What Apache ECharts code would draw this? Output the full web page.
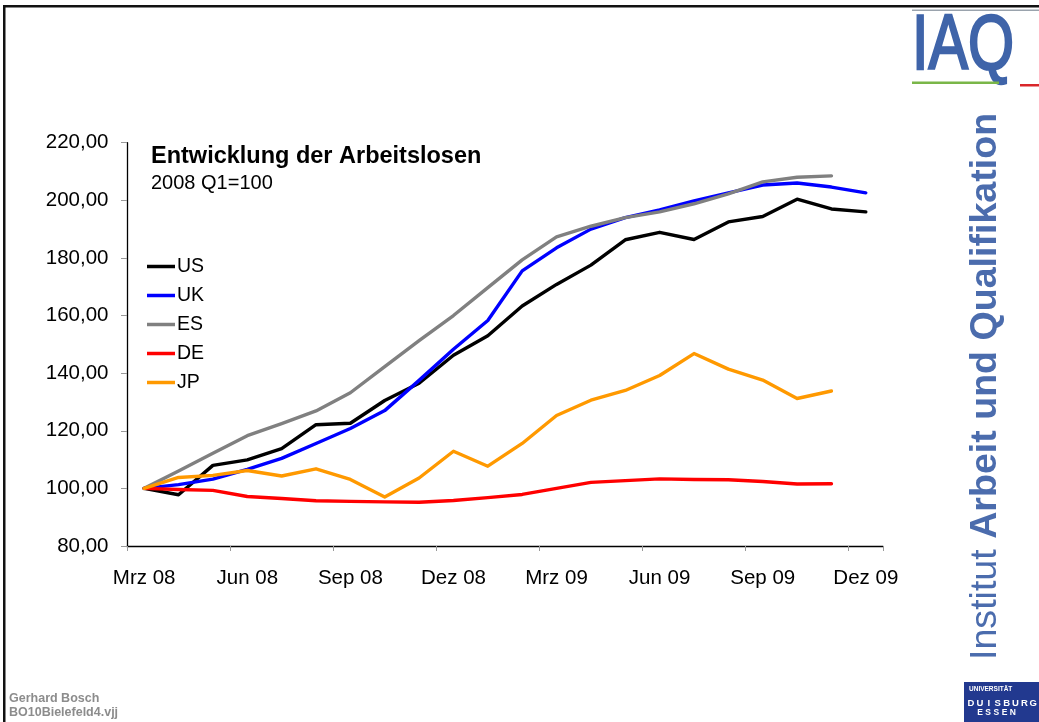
<!DOCTYPE html>
<html>
<head>
<meta charset="utf-8">
<script src="https://cdn.jsdelivr.net/npm/echarts@6/dist/echarts.min.js"></script>
<style>
html,body{margin:0;padding:0;background:#fff;}
#chart{width:1039px;height:722px;}
</style>
</head>
<body>
<div id="chart"></div>
<script>
const categories = ['Mrz 08','Apr 08','Mai 08','Jun 08','Jul 08','Aug 08','Sep 08','Okt 08','Nov 08','Dez 08','Jan 09','Feb 09','Mrz 09','Apr 09','Mai 09','Jun 09','Jul 09','Aug 09','Sep 09','Okt 09','Nov 09','Dez 09'];
const seriesNames = ['US','UK','ES','DE','JP'];
const US = [100, 97.8, 108.0, 109.9, 113.8, 122.1, 122.6, 130.5, 136.5, 146.2, 153.0, 163.3, 170.8, 177.5, 186.3, 188.9, 186.4, 192.5, 194.4, 200.4, 197.0, 196.0];
const UK = [100, 101.3, 103.2, 106.6, 110.4, 115.6, 120.8, 127.0, 137.5, 148.3, 158.3, 175.5, 183.5, 190.0, 194.0, 196.7, 199.8, 202.6, 205.3, 206.0, 204.6, 202.6];
const ES = [100, 106.0, 112.2, 118.3, 122.5, 126.9, 133.2, 142.3, 151.3, 160.0, 169.7, 179.3, 187.3, 191.0, 194.0, 196.0, 198.8, 202.2, 206.4, 208.0, 208.5];
const DE = [100, 99.6, 99.3, 97.2, 96.5, 95.7, 95.5, 95.3, 95.2, 95.8, 96.8, 97.9, 100.0, 102.1, 102.7, 103.3, 103.1, 103.0, 102.4, 101.5, 101.6];
const JP = [100, 103.8, 104.5, 106.2, 104.3, 106.8, 103.1, 97.0, 103.6, 112.9, 107.7, 115.6, 125.3, 130.6, 134.0, 139.2, 146.8, 141.4, 137.6, 131.2, 133.8];
const seriesData = [US, UK, ES, DE, JP];
const seriesColors = ['#000000', '#0000ff', '#808080', '#ff0000', '#ff9900'];
const yTicks = { min: 80, max: 220, interval: 20 };
const titleText = 'Entwicklung der Arbeitslosen';
const subtitleText = '2008 Q1=100';

const FONT = "'Liberation Sans', Arial, Helvetica, sans-serif";
const IAQ_BLUE = '#3f64a9';
const TEXT_BLUE = '#4b6cad';

const chart = echarts.init(document.getElementById('chart'), null, {renderer: 'canvas'});

// university logo letters (decoration)
const uniLetters = [];
'DUISBURG'.split('').forEach((ch, i) => {
  uniLetters.push({type: 'text', silent: true, style: {text: ch, x: 971 + i * 8.9, y: 703, font: "bold 9.5px " + FONT, fill: '#ffffff', textAlign: 'center', textVerticalAlign: 'middle'}});
});
'ESSEN'.split('').forEach((ch, i) => {
  uniLetters.push({type: 'text', silent: true, style: {text: ch, x: 980 + i * 8.2, y: 713, font: "bold 8.5px " + FONT, fill: '#ffffff', textAlign: 'center', textVerticalAlign: 'middle'}});
});

const option = {
  animation: false,
  backgroundColor: '#ffffff',
  color: seriesColors,
  title: {
    text: titleText,
    subtext: subtitleText,
    left: 151,
    top: 144.5,
    padding: 0,
    itemGap: 4.5,
    textStyle: {fontFamily: FONT, fontSize: 23.5, fontWeight: 'bold', color: '#000', lineHeight: 24},
    subtextStyle: {fontFamily: FONT, fontSize: 20, color: '#000', lineHeight: 20}
  },
  legend: {
    orient: 'vertical',
    left: 147,
    top: 256.5,
    padding: 0,
    itemGap: 9,
    itemWidth: 28,
    itemHeight: 3.5,
    icon: 'rect',
    data: seriesNames,
    textStyle: {fontFamily: FONT, fontSize: 19.5, color: '#000', lineHeight: 20, padding: [0, 0, 0, -3]}
  },
  grid: {
    left: 127,
    right: 156,
    top: 142.7,
    bottom: 176,
    containLabel: false,
    outerBoundsMode: 'none'
  },
  xAxis: {
    type: 'category',
    data: categories,
    boundaryGap: true,
    axisLine: {show: true, lineStyle: {color: '#000', width: 1.3}},
    axisTick: {show: true, interval: 2, alignWithLabel: false, length: 5, inside: false, lineStyle: {color: '#999'}},
    axisLabel: {interval: 2, margin: 22, fontFamily: FONT, fontSize: 20.5, color: '#000'},
    splitLine: {show: false}
  },
  yAxis: {
    type: 'value',
    min: yTicks.min,
    max: yTicks.max,
    interval: yTicks.interval,
    axisLine: {show: true, lineStyle: {color: '#000', width: 1.3}},
    axisTick: {show: true, length: 6, inside: false, lineStyle: {color: '#999'}},
    axisLabel: {
      margin: 18.5,
      fontFamily: FONT, fontSize: 20.5, color: '#000',
      formatter: v => v.toFixed(2).replace('.', ',')
    },
    splitLine: {show: false}
  },
  series: seriesNames.map((name, i) => ({
    name: name,
    type: 'line',
    data: seriesData[i],
    symbol: 'none',
    showSymbol: false,
    smooth: false,
    color: seriesColors[i],
    lineStyle: {color: seriesColors[i], width: 3.4, cap: 'round', join: 'round'},
    itemStyle: {color: seriesColors[i]},
    emphasis: {disabled: true},
    z: 2 + i
  })),
  graphic: [
    // slide frame
    {type: 'rect', shape: {x: 3, y: 5, width: 1036, height: 2.5}, style: {fill: '#111'}, silent: true},
    {type: 'rect', shape: {x: 3, y: 5, width: 2.5, height: 717}, style: {fill: '#111'}, silent: true},
    // IAQ logo
    {type: 'rect', shape: {x: 912, y: 9.5, width: 127, height: 1.5}, style: {fill: '#9aa3ad'}, silent: true},
    {type: 'text', x: 912, y: 47, scaleX: 0.76, style: {text: 'IAQ', x: 0, y: 0, font: "78px " + FONT, fill: IAQ_BLUE, stroke: IAQ_BLUE, lineWidth: 2.4, textAlign: 'left', textVerticalAlign: 'middle'}, silent: true},
    {type: 'rect', shape: {x: 912, y: 81.5, width: 87, height: 2.5}, style: {fill: '#7ab648'}, silent: true},
    {type: 'rect', shape: {x: 1020, y: 84, width: 19, height: 2.5}, style: {fill: '#d9262a'}, silent: true},
    // vertical institute name
    {
      type: 'group', x: 985.5, y: 660, rotation: Math.PI / 2, silent: true,
      children: [
        {type: 'text', style: {text: 'Institut ', x: 0, y: 0, font: "37.6px " + FONT, fill: TEXT_BLUE, textAlign: 'left', textVerticalAlign: 'middle'}},
        {type: 'text', style: {text: 'Arbeit und Qualifikation', x: 121.2, y: 0, font: "bold 37.6px " + FONT, fill: TEXT_BLUE, textAlign: 'left', textVerticalAlign: 'middle'}}
      ]
    },
    // University logo
    {type: 'rect', shape: {x: 964, y: 682, width: 75, height: 40}, style: {fill: '#22398f'}, silent: true},
    {type: 'text', style: {text: 'UNIVERSITÄT', x: 969, y: 689.5, font: "bold 6.5px " + FONT, fill: '#ffffff', textAlign: 'left', textVerticalAlign: 'middle'}, silent: true}
  ].concat(uniLetters).concat([
    // footer
    {type: 'text', style: {text: 'Gerhard Bosch', x: 9, y: 698.5, font: "bold 12.5px " + FONT, fill: '#8c8c8c', textAlign: 'left', textVerticalAlign: 'middle'}, silent: true},
    {type: 'text', style: {text: 'BO10Bielefeld4.vjj', x: 9, y: 712.5, font: "bold 12.5px " + FONT, fill: '#8c8c8c', textAlign: 'left', textVerticalAlign: 'middle'}, silent: true}
  ])
};

chart.setOption(option);
</script>
</body>
</html>
